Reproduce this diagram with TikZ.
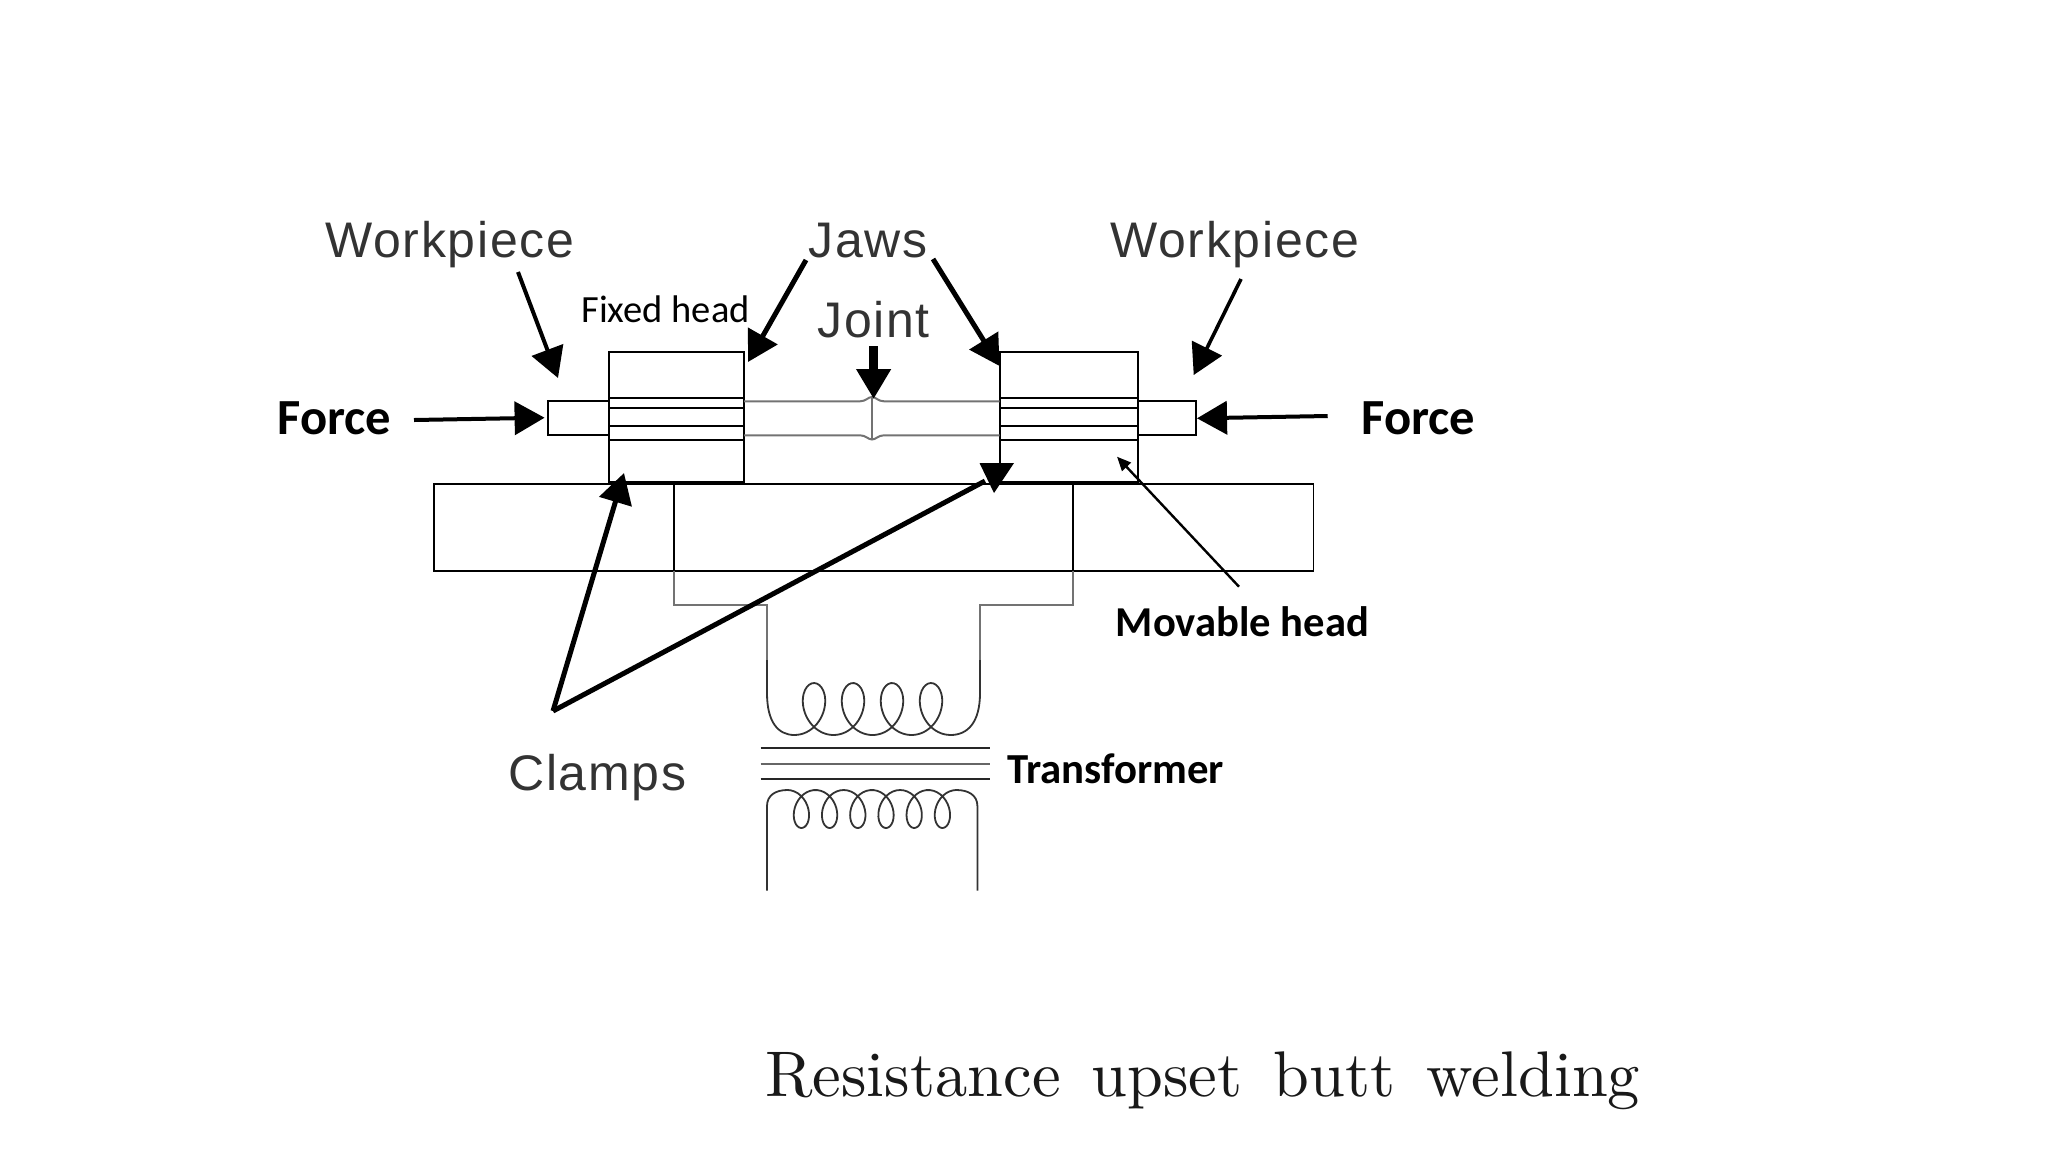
\documentclass[tikz,border=0pt]{standalone}
\usepackage{fontspec}
\usetikzlibrary{arrows.meta}
\newfontfamily\arialfont{Liberation Sans}[LetterSpace=3.4]
\newfontfamily\califont{Carlito}
\newfontfamily\titlefont{lmroman10-regular}[Extension=.otf, WordSpace=1.45]
\tikzset{
  part/.style={draw, rectangle, line width=1pt, inner sep=0pt, outer sep=0pt},
  wire/.style={draw=black!55, line width=1pt},
  thin wire/.style={draw=black!80, line width=.9pt, line join=round},
  big arrow/.style={line width=#1, -{Triangle[length=15pt,width=16.5pt]}},
  big arrow/.default=2pt,
  small arrow/.style={line width=1.2pt, -{Triangle[length=7pt,width=6pt]}},
  old label/.style={font=\arialfont\fontsize{25pt}{25pt}\selectfont, text=black!80, anchor=base west, inner sep=0pt},
  small label/.style={font=\califont\fontsize{19.25pt}{20pt}\selectfont, anchor=base west, inner sep=0pt},
  bold label/.style={font=\califont\bfseries\fontsize{#1}{24pt}\selectfont, anchor=base west, inner sep=0pt},
}
\begin{document}
\begin{tikzpicture}[x=.5pt, y=-.5pt]
  \useasboundingbox (0,0) rectangle (2048,1152);

  % blocks
  \node[part, minimum width=69pt, minimum height=65.2pt] (rhead) at (1068.5,417.5) {};
  \node[part, minimum width=67.75pt, minimum height=65.2pt] (lhead) at (676.25,417.5) {};
  \node[part, minimum width=30.25pt, minimum height=17pt] (lwork) at (578.25,418.3) {};
  \node[part, minimum width=29pt, minimum height=17pt] (rwork) at (1166.5,418.3) {};
  \node[part, minimum width=439.7pt, minimum height=43.5pt, line width=.9pt] (base) at (873.7,527.2) {};

  % jaw lines
  \foreach \yy in {397.7,408,426.3,439.7} {
    \draw[line width=1pt] (lhead.west |- 0,\yy) -- (lhead.east |- 0,\yy);
    \draw[line width=1pt] (rhead.west |- 0,\yy) -- (rhead.east |- 0,\yy);
  }
  \draw[line width=1.6pt] (lhead.south west) -- (lhead.south east);
  \draw[line width=1.6pt] (rhead.south west) -- (rhead.south east);

  % workpiece between the heads, with the joint
  \draw[wire] (lhead.east |- 0,401.3) -- (860,401.3) .. controls (866,401.3) and (868,397) .. (872,397)
     .. controls (876,397) and (878,401.3) .. (884,401.3) -- (rhead.west |- 0,401.3);
  \draw[wire] (lhead.east |- 0,435.3) -- (860,435.3) .. controls (866,435.3) and (868,439.5) .. (872,439.5)
     .. controls (876,439.5) and (878,435.3) .. (884,435.3) -- (rhead.west |- 0,435.3);
  \draw[wire] (872,397) -- (872,439.5);

  % transformer frame
  \draw[line width=.9pt] (674,483.7) -- (674,570.7);
  \draw[line width=.9pt] (1073,483.7) -- (1073,570.7);
  \draw[wire] (674,570.7) -- (674,604.5) -- (767,604.5) -- (767,660);
  \draw[wire] (1073,570.7) -- (1073,604.5) -- (980,604.5) -- (980,660);

  % upper coil
  \draw[thin wire] (767,660) -- (767,693) .. controls (767,722) and (778,735) .. (794.5,735)
    -- plot[domain=0:25.133, samples=130, smooth] ({794.5+6.207*\x+20*sin(\x r)},{709+26*cos(\x r)})
    .. controls (968,735) and (980,722) .. (980,693) -- (980,660);
  % core
  \draw[line width=1pt, black!85] (760.6,748.3) -- (990,748.3);
  \draw[line width=1pt, black!60] (760.6,764) -- (990,764);
  \draw[line width=1pt, black!85] (760.6,779.3) -- (990,779.3);
  % lower coil
  \draw[thin wire] (767,890.7) -- (767,806) .. controls (767,795) and (776,790) .. (787.3,790)
    -- plot[domain=0:37.699, samples=190, smooth] ({787.3+4.488*\x+14*sin(\x r)},{809-19*cos(\x r)})
    .. controls (968,790) and (977.4,795) .. (977.4,806) -- (977.4,890.7);

  % labels
  \node[old label] (wl) at (325,257) {Workpiece};
  \node[old label] (wr) at (1110,257) {Workpiece};
  \node[old label] (jaws) at (808,257) {Jaws};
  \node[old label] (joint) at (817,337) {Joint};
  \node[old label] (clamps) at (508,790) {Clamps};
  \node[small label] (fixed) at (581,322.7) {Fixed head};
  \node[bold label=25.3pt] (fl) at (277,434) {Force};
  \node[bold label=25.3pt] (fr) at (1361,434) {Force};
  \node[bold label=21.3pt] (mov) at (1115.5,636.5) {Movable head};
  \node[bold label=21.4pt] (trans) at (1007,783) {Transformer};
  \node[font=\titlefont\fontsize{32.25pt}{36pt}\selectfont, text=black!90, anchor=base west, inner sep=0pt] (title) at (765,1096) {Resistance upset butt welding};

  % arrow ends
  \coordinate (wl s) at (518,272);
  \coordinate (wl t) at (558,378);
  \coordinate (jl s) at (806,260);
  \coordinate (jl t) at (748,362);
  \coordinate (jr s) at (933,259);
  \coordinate (jr t) at (999.5,366);
  \coordinate (wr s) at (1241,279);
  \coordinate (wr t) at (1193.7,375);
  \coordinate (jt s) at (873.6,346);
  \coordinate (jt t) at (873.6,399);
  \coordinate (fl s) at (414,420);
  \coordinate (fl t) at (544.6,417.7);
  \coordinate (fr s) at (1327.7,416);
  \coordinate (fr t) at (1197,418.3);
  \coordinate (cl a) at (553,711);
  \coordinate (cl t) at (624,473);
  \coordinate (cr e) at (985,481);
  \coordinate (mv s) at (1239,586.7);
  \coordinate (mv t) at (1117,456.7);

  \draw[big arrow] (wl s) -- (wl t);
  \draw[big arrow=2.5pt] (jl s) -- (jl t);
  \draw[big arrow=2.5pt] (jr s) -- (jr t);
  \draw[big arrow=1.8pt] (wr s) -- (wr t);
  \draw[big arrow=4.5pt] (jt s) -- (jt t);
  \draw[big arrow] (fl s) -- (fl t);
  \draw[big arrow] (fr s) -- (fr t);
  \draw[big arrow=2.5pt] (cl a) -- (cl t);
  \draw[line width=2.5pt] (cl a) -- (cr e);
  \fill (979.5,463) -- (1014,463) -- (994,493) -- cycle;
  \draw[small arrow] (mv s) -- (mv t);
\end{tikzpicture}
\end{document}
